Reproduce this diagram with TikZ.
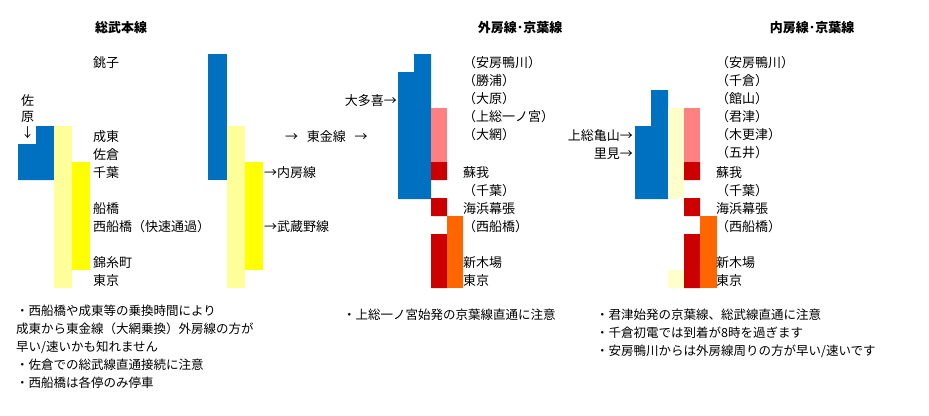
\documentclass[tikz,border=0pt]{standalone}
\usepackage{fontspec}
\setmainfont{Noto Sans CJK JP}
\definecolor{lineblue}{HTML}{0070C0}
\definecolor{paleyellow}{HTML}{FFFF99}
\definecolor{brightyellow}{HTML}{FFFF00}
\definecolor{pinkish}{HTML}{FF8080}
\definecolor{keiyored}{HTML}{CC0000}
\definecolor{orangeish}{HTML}{FF6600}
\definecolor{cream}{HTML}{FFFFCC}
\tikzset{
  stn/.style={anchor=west,inner sep=0pt,font=\fontsize{13}{13}\selectfont},
  ttl/.style={anchor=center,inner sep=0pt,font=\fontsize{13}{13}\selectfont\bfseries},
  note/.style={anchor=north west,inner sep=0pt,align=left,font=\fontsize{12.5}{18}\selectfont}
}
\begin{document}
\begin{tikzpicture}[x=1pt,y=-1pt]
  \useasboundingbox (0,0) rectangle (929,415);
  % left panel
  \fill[lineblue] (36,126) rectangle (54,180) (18,144) rectangle (36,180);
  \fill[paleyellow] (54,126) rectangle (72,288);
  \fill[brightyellow] (72,162) rectangle (90,270);
  \node[ttl] (t1) at (121,28) {総武本線};
  \node[stn,align=center,font=\fontsize{13}{16}\selectfont] (sawara) at (21,117) {佐\\原\\↓};
  \foreach \nm/\yy/\txt in {a/63/銚子,b/137/成東,c/155/佐倉,d/173/千葉,e/209/船橋,f/227/西船橋（快速通過）,g/263/錦糸町,h/281/東京}
    \node[stn] (l\nm) at (93,\yy) {\txt};
  % middle panel
  \fill[lineblue] (208,54) rectangle (227,180);
  \fill[paleyellow] (227,126) rectangle (245,288);
  \fill[brightyellow] (245,162) rectangle (263,270);
  \node[stn] (uchibo) at (264,173) {→内房線};
  \node[stn] (musashino) at (264,227) {→武蔵野線};
  \node[stn] (togane) at (285,137) {→\ \ \ 東金線\ \ \ →};
  % sotobo panel
  \node[ttl] (t2) at (520,28) {外房線･京葉線};
  \fill[lineblue] (414,54) rectangle (431,72) (398,72) rectangle (431,199);
  \fill[pinkish] (431,108) rectangle (447,162);
  \fill[keiyored] (431,162) rectangle (447,180) (431,198) rectangle (447,216) (431,234) rectangle (447,288);
  \fill[orangeish] (447,216) rectangle (463,288);
  \node[stn,anchor=east] (otaki) at (397,101) {大多喜→};
  \foreach \nm/\yy/\txt in {a/63/（安房鴨川）,b/81/（勝浦）,c/99/（大原）,d/117/（上総一ノ宮）,e/135/（大網）,f/173/蘇我,g/191/（千葉）,h/209/海浜幕張,i/227/（西船橋）,j/263/新木場,k/281/東京}
    \node[stn] (s\nm) at (463,\yy) {\txt};
  % uchibo panel
  \node[ttl] (t3) at (812,28) {内房線･京葉線};
  \fill[lineblue] (651,90) rectangle (668,126) (635,126) rectangle (668,199);
  \fill[cream] (668,108) rectangle (684,198) (668,270) rectangle (684,288);
  \fill[pinkish] (684,108) rectangle (700,162);
  \fill[keiyored] (684,162) rectangle (700,180) (684,198) rectangle (700,216) (684,234) rectangle (700,288);
  \fill[orangeish] (700,216) rectangle (717,288);
  \node[stn,anchor=east] (kameyama) at (633,136) {上総亀山→};
  \node[stn,anchor=east] (satomi) at (633,154) {里見→};
  \foreach \nm/\yy/\txt in {a/63/（安房鴨川）,b/81/（千倉）,c/99/（館山）,d/117/（君津）,e/135/（木更津）,f/153/（五井）,g/173/蘇我,h/191/（千葉）,i/209/海浜幕張,j/227/（西船橋）,k/263/新木場,l/281/東京}
    \node[stn] (u\nm) at (716,\yy) {\txt};
  % notes
  \node[note] (n1) at (16,305) {・西船橋や成東等の乗換時間により\\成東から東金線（大網乗換）外房線の方が\\早い/速いかも知れません\\・佐倉での総武線直通接続に注意\\・西船橋は各停のみ停車};
  \node[note] (n2) at (343,309) {・上総一ノ宮始発の京葉線直通に注意};
  \node[note] (n3) at (596,309) {・君津始発の京葉線、総武線直通に注意\\・千倉初電では到着が8時を過ぎます\\・安房鴨川からは外房線周りの方が早い/速いです};
\end{tikzpicture}
\end{document}
